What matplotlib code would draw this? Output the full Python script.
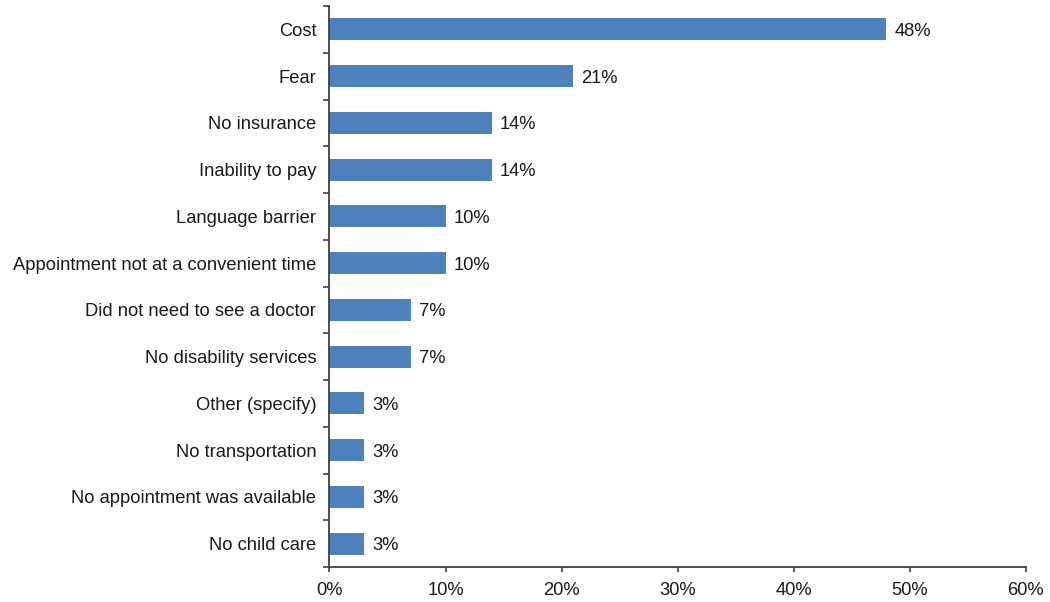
import matplotlib
matplotlib.use("Agg")
import matplotlib.pyplot as plt
from matplotlib.ticker import FuncFormatter

categories = ["Cost", "Fear", "No insurance", "Inability to pay", "Language barrier",
              "Appointment not at a convenient time", "Did not need to see a doctor",
              "No disability services", "Other (specify)", "No transportation",
              "No appointment was available", "No child care"]
values = [48, 21, 14, 14, 10, 10, 7, 7, 3, 3, 3, 3]
xticks = [0, 10, 20, 30, 40, 50, 60]

plt.rcParams['font.family'] = ['Liberation Sans', 'DejaVu Sans']
fig = plt.figure(figsize=(10.5, 6.02), dpi=100)
ax = fig.add_axes([0.3138, 0.0581, 0.9769 - 0.3138, 0.990 - 0.0581])

fs = 13.2
n = len(categories)
pos = list(range(n))
ax.barh(pos, values, height=0.47, color='#4F81BD', zorder=2)
ax.set_ylim(n - 0.5, -0.5)
ax.set_xlim(0, 60)
ax.set_yticks(pos)
ax.set_yticklabels(categories, fontsize=fs, color='#1a1a1a')
ax.tick_params(axis='y', which='major', length=0, pad=9.5)
ax.set_yticks([p - 0.5 for p in range(n + 1)], minor=True)
ax.tick_params(axis='y', which='minor', length=4, width=1.2, color='#404040', direction='out')
ax.set_xticks(xticks)
ax.xaxis.set_major_formatter(FuncFormatter(lambda v, p: f"{int(v)}%"))
ax.tick_params(axis='x', length=3.5, width=1.2, color='#404040', labelsize=fs, labelcolor='#1a1a1a', pad=7)
for s in ['top', 'right']:
    ax.spines[s].set_visible(False)
for s in ['left', 'bottom']:
    ax.spines[s].set_color('#404040')
    ax.spines[s].set_linewidth(1.3)

for p, v in zip(pos, values):
    ax.text(v + 0.7, p + 0.04, f"{v}%", va='center', ha='left', fontsize=fs, color='#1a1a1a')

fig.savefig('out.png', dpi=100, facecolor='white')
